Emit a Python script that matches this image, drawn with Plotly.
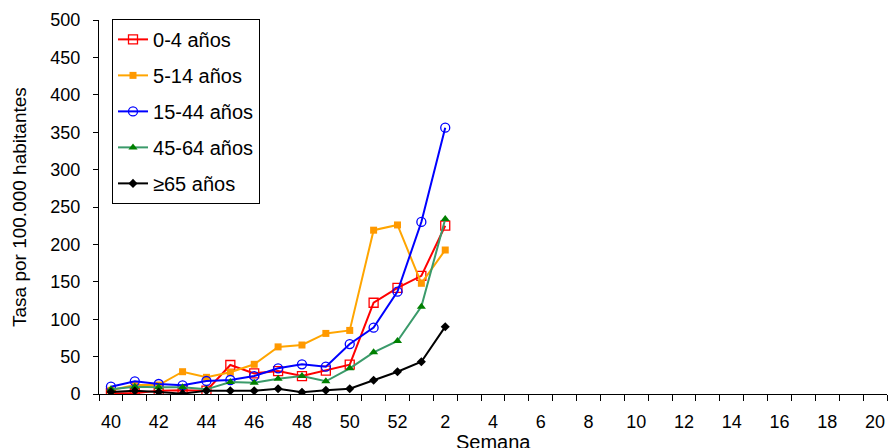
import plotly.graph_objects as go

# All week categories on the axis (2009-2010 season)
weeks = [40, 41, 42, 43, 44, 45, 46, 47, 48, 49, 50, 51, 52] + list(range(1, 21))
# Weeks with data
data_weeks = [40, 41, 42, 43, 44, 45, 46, 47, 48, 49, 50, 51, 52, 1, 2]
tick_weeks = [40, 42, 44, 46, 48, 50, 52, 2, 4, 6, 8, 10, 12, 14, 16, 18, 20]

g0_4 = [1, 1, 4.5, 5, 4.4, 38.8, 27.6, 30.7, 24, 31.2, 39.2, 122, 142, 158, 225]
g5_14 = [5, 12, 12, 29.8, 22.3, 29, 39.7, 63, 65.5, 81, 85, 219, 226, 148, 192.5]
g15_44 = [9.8, 17, 13.4, 11.6, 17.4, 18.7, 24, 34.3, 39.7, 36.5, 66.8, 88.7, 136.8, 230, 356]
g45_64 = [6.2, 9.8, 8.9, 8.9, 6.2, 16, 15, 20.5, 24, 17, 34.3, 55.7, 70.9, 116.8, 234]
g65 = [2.7, 4.4, 2.7, 0.5, 4.4, 4.4, 4.4, 7, 2.2, 4.9, 7, 18.3, 29.8, 43.2, 90]

x_idx = [weeks.index(w) for w in data_weeks]
tick_idx = [weeks.index(w) for w in tick_weeks]

series = [
    ("0-4 años", g0_4, "#FF0000", dict(symbol="square-open", size=9, color="#FF0000", line=dict(width=1.3))),
    ("5-14 años", g5_14, "#FFA500", dict(symbol="square", size=7, color="#FF9900")),
    ("15-44 años", g15_44, "#0000FF", dict(symbol="circle-open", size=9, color="#0000FF", line=dict(width=1.3))),
    ("45-64 años", g45_64, "#3A9A6A", dict(symbol="triangle-up", size=8, color="#008000")),
    ("≥65 años", g65, "#000000", dict(symbol="diamond", size=7, color="#000000")),
]

fig = go.Figure()
for i, (name, vals, lc, mk) in enumerate(series):
    fig.add_trace(go.Scatter(
        x=x_idx, y=vals, name=name, mode="lines+markers",
        line=dict(color=lc, width=2), marker=mk, legendgroup=str(i),
    ))

font = "Liberation Sans, Arial, sans-serif"
fig.update_layout(
    width=890, height=448,
    margin=dict(l=99, r=3, t=20, b=54),
    paper_bgcolor="white", plot_bgcolor="white",
    font=dict(family=font, color="black", size=18),
    showlegend=True,
    legend=dict(
        x=0.0165, y=1.003, xanchor="left", yanchor="top",
        bordercolor="black", borderwidth=1, bgcolor="white",
        font=dict(size=20), tracegroupgap=7,
        itemwidth=30,
    ),
    xaxis=dict(
        range=[-0.5, len(weeks) - 0.5],
        tickmode="array", tickvals=tick_idx, ticktext=[str(w) for w in tick_weeks],
        ticks="outside", ticklen=0, tickcolor="rgba(0,0,0,0)",
        ticklabelstandoff=11,
        tickfont=dict(size=18),
        minor=dict(ticks="outside", ticklen=6, tickcolor="black", tick0=-0.5, dtick=1, showgrid=False),
        showline=True, linecolor="black", linewidth=1,
        showgrid=False, zeroline=False,
        automargin=False,
    ),
    yaxis=dict(
        range=[0, 500], dtick=50, tick0=0,
        ticks="outside", ticklen=5, tickcolor="black",
        ticklabelstandoff=9,
        tickfont=dict(size=18),
        showline=True, linecolor="black", linewidth=1,
        showgrid=False, zeroline=False,
        automargin=False,
    ),
    annotations=[
        dict(text="Semana", xref="paper", yref="paper", x=0.5, y=0,
             xanchor="center", yanchor="middle", yshift=-48, showarrow=False,
             font=dict(size=20)),
        dict(text="Tasa por 100.000 habitantes", xref="paper", yref="paper",
             x=0, y=0.5, xanchor="center", yanchor="middle", xshift=-80,
             textangle=-90, showarrow=False, font=dict(size=19)),
    ],
)

fig.write_html(
    "out.html",
    config={"displayModeBar": False},
    post_script="document.body.style.margin='0';document.body.style.overflow='hidden';",
)
